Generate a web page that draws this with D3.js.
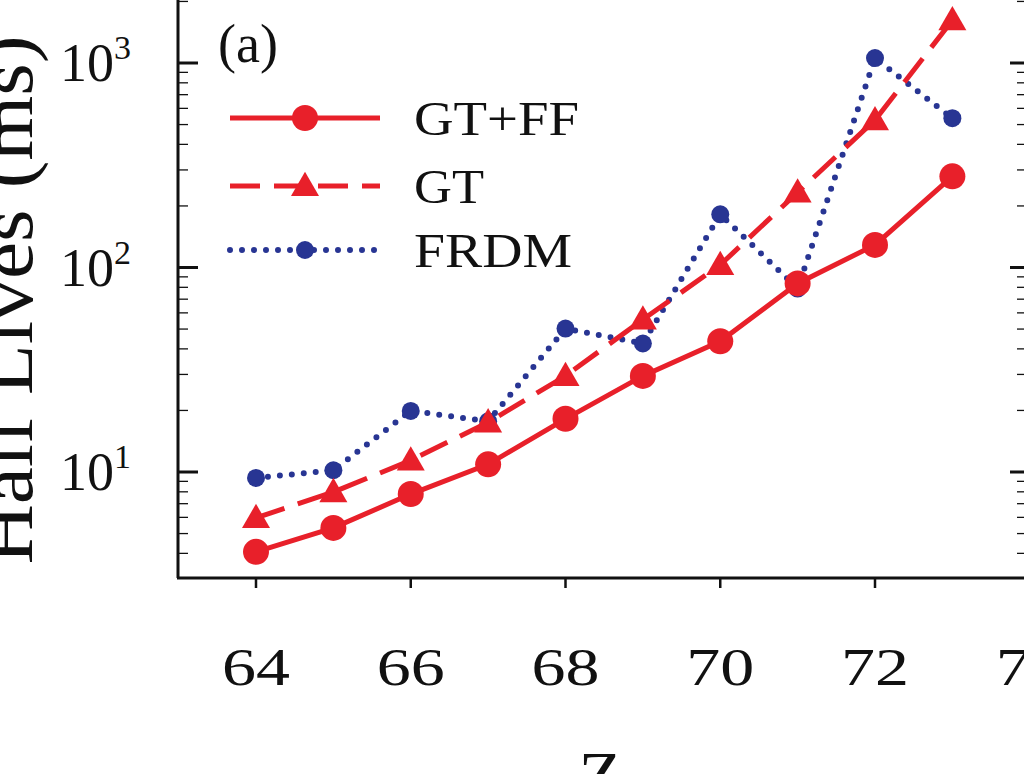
<!DOCTYPE html>
<html><head><meta charset="utf-8">
<script src="https://cdn.jsdelivr.net/npm/d3@7"></script>
<style>body{margin:0;background:#fff}svg{display:block}</style>
</head><body>
<div id="chart"></div>
<script>
var zValues = [64,65,66,67,68,69,70,71,72,73];
var gtff = [4.07,5.33,7.8,10.9,18.2,29.5,43.6,83.6,129,279];
var gt = [5.96,7.98,11.4,17.5,29.5,55.7,103,233,526,1620];
var frdm = [9.35,10.2,19.9,17.7,50.3,42.5,182,78.9,1057,537];
var xTicks = [64,66,68,70,72,74];
var yTicks = [10,100,1000];

var W = 1024, H = 774;
var svg = d3.select("#chart").append("svg").attr("width",W).attr("height",H);
var font = "'Liberation Serif','Times New Roman',serif";

var x = d3.scaleLinear().domain([64,72]).range([256,875]);
var y = d3.scaleLog().domain([10,1000]).range([472,63]);
var left = 178, bottom = 578, right = 1030;

var minors = [];
[1,10,100,1000].forEach(function(d){ for(var k=2;k<10;k++){ var v=d*k; if(y(v)<bottom && y(v)>-5) minors.push(v);} });

var ax = svg.append("g").attr("stroke","#111");
ax.append("line").attr("x1",left).attr("x2",left).attr("y1",0).attr("y2",bottom).attr("stroke-width",3);
ax.append("line").attr("x1",left-1).attr("x2",W).attr("y1",bottom).attr("y2",bottom).attr("stroke-width",3);
ax.selectAll(".ml").data(yTicks).enter().append("line")
  .attr("x1",left).attr("x2",left+20).attr("y1",y).attr("y2",y).attr("stroke-width",3);
ax.selectAll(".mr").data(yTicks).enter().append("line")
  .attr("x1",right-20).attr("x2",right).attr("y1",y).attr("y2",y).attr("stroke-width",3);
ax.selectAll(".nl").data(minors).enter().append("line")
  .attr("x1",left).attr("x2",left+10).attr("y1",y).attr("y2",y).attr("stroke-width",1.3);
ax.selectAll(".nr").data(minors).enter().append("line")
  .attr("x1",right-13).attr("x2",right).attr("y1",y).attr("y2",y).attr("stroke-width",1.3);
ax.selectAll(".xt").data(xTicks).enter().append("line")
  .attr("x1",x).attr("x2",x).attr("y1",bottom).attr("y2",bottom+10).attr("stroke-width",2.5);

svg.selectAll(".xl").data(xTicks).enter().append("text")
  .attr("x",function(d){return x(d)-34;}).attr("y",685)
  .attr("textLength",68).attr("lengthAdjust","spacingAndGlyphs")
  .attr("font-family",font).attr("font-size",52).attr("fill","#111").text(function(d){return d;});
var yl = svg.selectAll(".yl").data(yTicks).enter().append("text")
  .attr("x",60).attr("y",function(d){return y(d)+18;})
  .attr("font-family",font).attr("font-size",54).attr("fill","#111");
yl.append("tspan").text("10");
yl.append("tspan").attr("dy",-22).attr("font-size",34).text(function(d){return Math.round(Math.log10(d));});

svg.append("text").attr("transform","translate(32,"+300+") rotate(-90) scale(1.1,1)")
  .attr("text-anchor","middle").attr("font-family",font).attr("font-size",76).attr("fill","#111")
  .text("Half Lives (ms)");
svg.append("text").attr("x",600).attr("y",800).attr("text-anchor","middle")
  .attr("font-family",font).attr("font-size",70).attr("fill","#111").text("Z");
svg.append("text").attr("x",218).attr("y",62).attr("font-family",font).attr("font-size",54).attr("fill","#111").text("(a)");

var red = "#e8202a", blue = "#283593";
var line = d3.line().x(function(d,i){return x(zValues[i]);}).y(function(d){return y(d);});
var tri = d3.symbol().type(d3.symbolTriangle).size(340);

var series = [
  {name:"GT+FF", data:gtff, color:red, dash:null, width:5, marker:"circle", r:13, tw:165},
  {name:"GT", data:gt, color:red, dash:"30,14", width:5, marker:"tri", tw:70},
  {name:"FRDM", data:frdm, color:blue, dash:"0,12", width:6, marker:"circle", r:9, tw:158}
];

function marker(g, s, cx, cy){
  if(s.marker==="circle") g.append("circle").attr("cx",cx).attr("cy",cy).attr("r",s.r).attr("fill",s.color);
  else g.append("path").attr("d",tri).attr("transform","translate("+cx+","+(cy+2)+")").attr("fill",s.color);
}

series.slice().reverse().forEach(function(s){
  var g = svg.append("g");
  g.append("path").attr("d",line(s.data)).attr("fill","none").attr("stroke",s.color)
    .attr("stroke-width",s.width).attr("stroke-dasharray",s.dash).attr("stroke-linecap",s.dash&&s.dash[0]==="0"?"round":"butt");
  s.data.forEach(function(d,i){ marker(g,s,x(zValues[i]),y(d)); });
});

var legY = [118,186,250];
series.forEach(function(s,i){
  var g = svg.append("g");
  g.append("line").attr("x1",230).attr("x2",380).attr("y1",legY[i]).attr("y2",legY[i])
    .attr("stroke",s.color).attr("stroke-width",s.width).attr("stroke-dasharray",s.dash)
    .attr("stroke-linecap",s.dash&&s.dash[0]==="0"?"round":"butt");
  marker(g,s,305,legY[i]);
  g.append("text").attr("x",414).attr("y",legY[i]+17).attr("font-family",font).attr("font-size",48)
    .attr("textLength",s.tw).attr("lengthAdjust","spacingAndGlyphs")
    .attr("fill","#111").text(s.name);
});
</script>
</body></html>
